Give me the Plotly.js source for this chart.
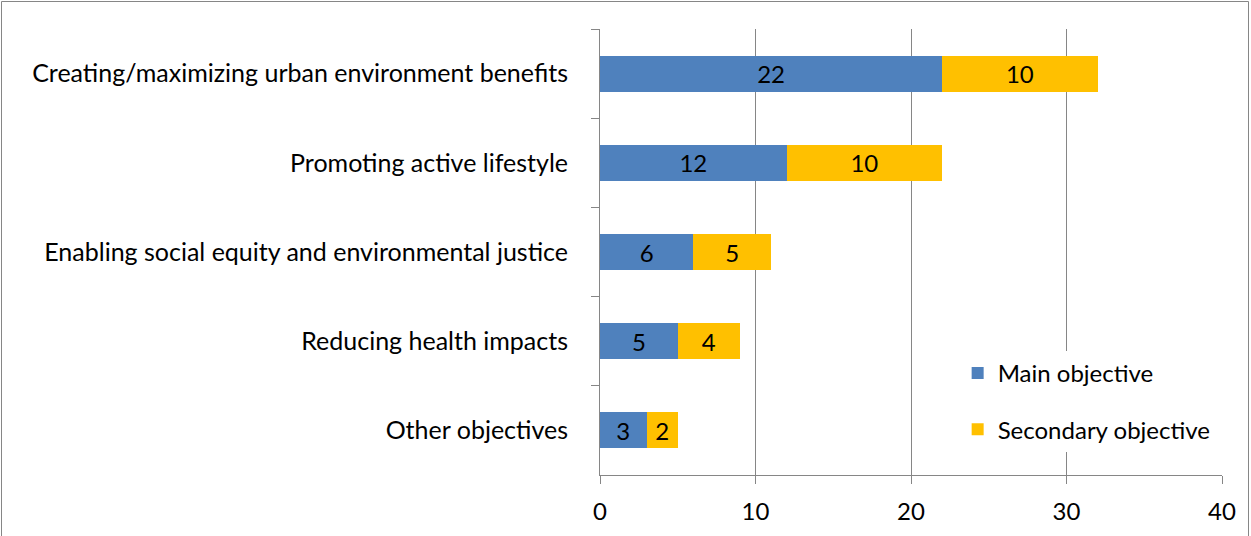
<!DOCTYPE html>
<html>
<head>
<meta charset="utf-8">
<script src="https://cdn.plot.ly/plotly-3.0.1.min.js"></script>
<style>
  html, body { margin: 0; padding: 0; background: #fff; }
  #chart { width: 1251px; height: 536px; }
</style>
</head>
<body>
<div id="chart"></div>
<script>
const categories = [
  "Creating/maximizing urban environment benefits",
  "Promoting active lifestyle",
  "Enabling social equity and environmental justice",
  "Reducing health impacts",
  "Other objectives"
];
const mainObjective = [22, 12, 6, 5, 3];
const secondaryObjective = [10, 10, 5, 4, 2];
const seriesNames = ["Main objective", "Secondary objective"];
const xTicks = [0, 10, 20, 30, 40];

const FONT = "Lato, 'Open Sans', sans-serif";
const axisColor = "#868686";
const FS = 24;

const traces = [
  {
    type: "bar", orientation: "h", name: seriesNames[0],
    y: categories, x: mainObjective,
    marker: { color: "#4F81BD" },
    text: mainObjective.map(String), textposition: "inside",
    insidetextanchor: "middle",
    textfont: { family: FONT, size: FS, color: "#000" },
    hoverinfo: "x+y", legendgroup: "a"
  },
  {
    type: "bar", orientation: "h", name: seriesNames[1],
    y: categories, x: secondaryObjective,
    marker: { color: "#FFC000" },
    text: secondaryObjective.map(String), textposition: "inside",
    insidetextanchor: "middle",
    textfont: { family: FONT, size: FS, color: "#000" },
    hoverinfo: "x+y", legendgroup: "b"
  }
];

const layout = {
  width: 1251, height: 536,
  margin: { l: 600, r: 29, t: 29, b: 61, pad: 0 },
  paper_bgcolor: "#fff", plot_bgcolor: "#fff",
  barmode: "stack", bargap: 0.595,
  font: { family: FONT, size: FS, color: "#000" },
  showlegend: true,
  legend: {
    x: 0.575, y: 0.278, xanchor: "left", yanchor: "top",
    bgcolor: "#fff", traceorder: "grouped", tracegroupgap: 22,
    font: { family: FONT, size: FS, color: "#000" },
    itemwidth: 30
  },
  xaxis: {
    range: [0, 40], tickvals: xTicks, ticktext: xTicks.map(String),
    showgrid: true, gridcolor: axisColor, gridwidth: 1,
    showline: true, linecolor: axisColor, linewidth: 1,
    ticks: "outside", ticklen: 8, tickcolor: axisColor,
    ticklabelstandoff: 7, zeroline: false,
    tickfont: { family: FONT, size: FS, color: "#000" }, fixedrange: true
  },
  yaxis: {
    type: "category", autorange: "reversed",
    showline: true, linecolor: axisColor, linewidth: 1,
    ticks: "outside", ticklen: 8, tickcolor: axisColor,
    tickson: "boundaries", showgrid: false,
    ticklabelstandoff: 26,
    tickfont: { family: FONT, size: 25, color: "#000" }, fixedrange: true
  },
  shapes: [
    { type: "rect", xref: "paper", yref: "paper",
      x0: (1.5 - 600) / 622, x1: (1248.5 - 600) / 622,
      y0: (475 - 560) / 446, y1: (475 - 1.5) / 446,
      line: { color: axisColor, width: 1 }, fillcolor: "rgba(0,0,0,0)", layer: "below" }
  ]
};

Plotly.newPlot("chart", traces, layout, { displayModeBar: false, staticPlot: true });
</script>
</body>
</html>
